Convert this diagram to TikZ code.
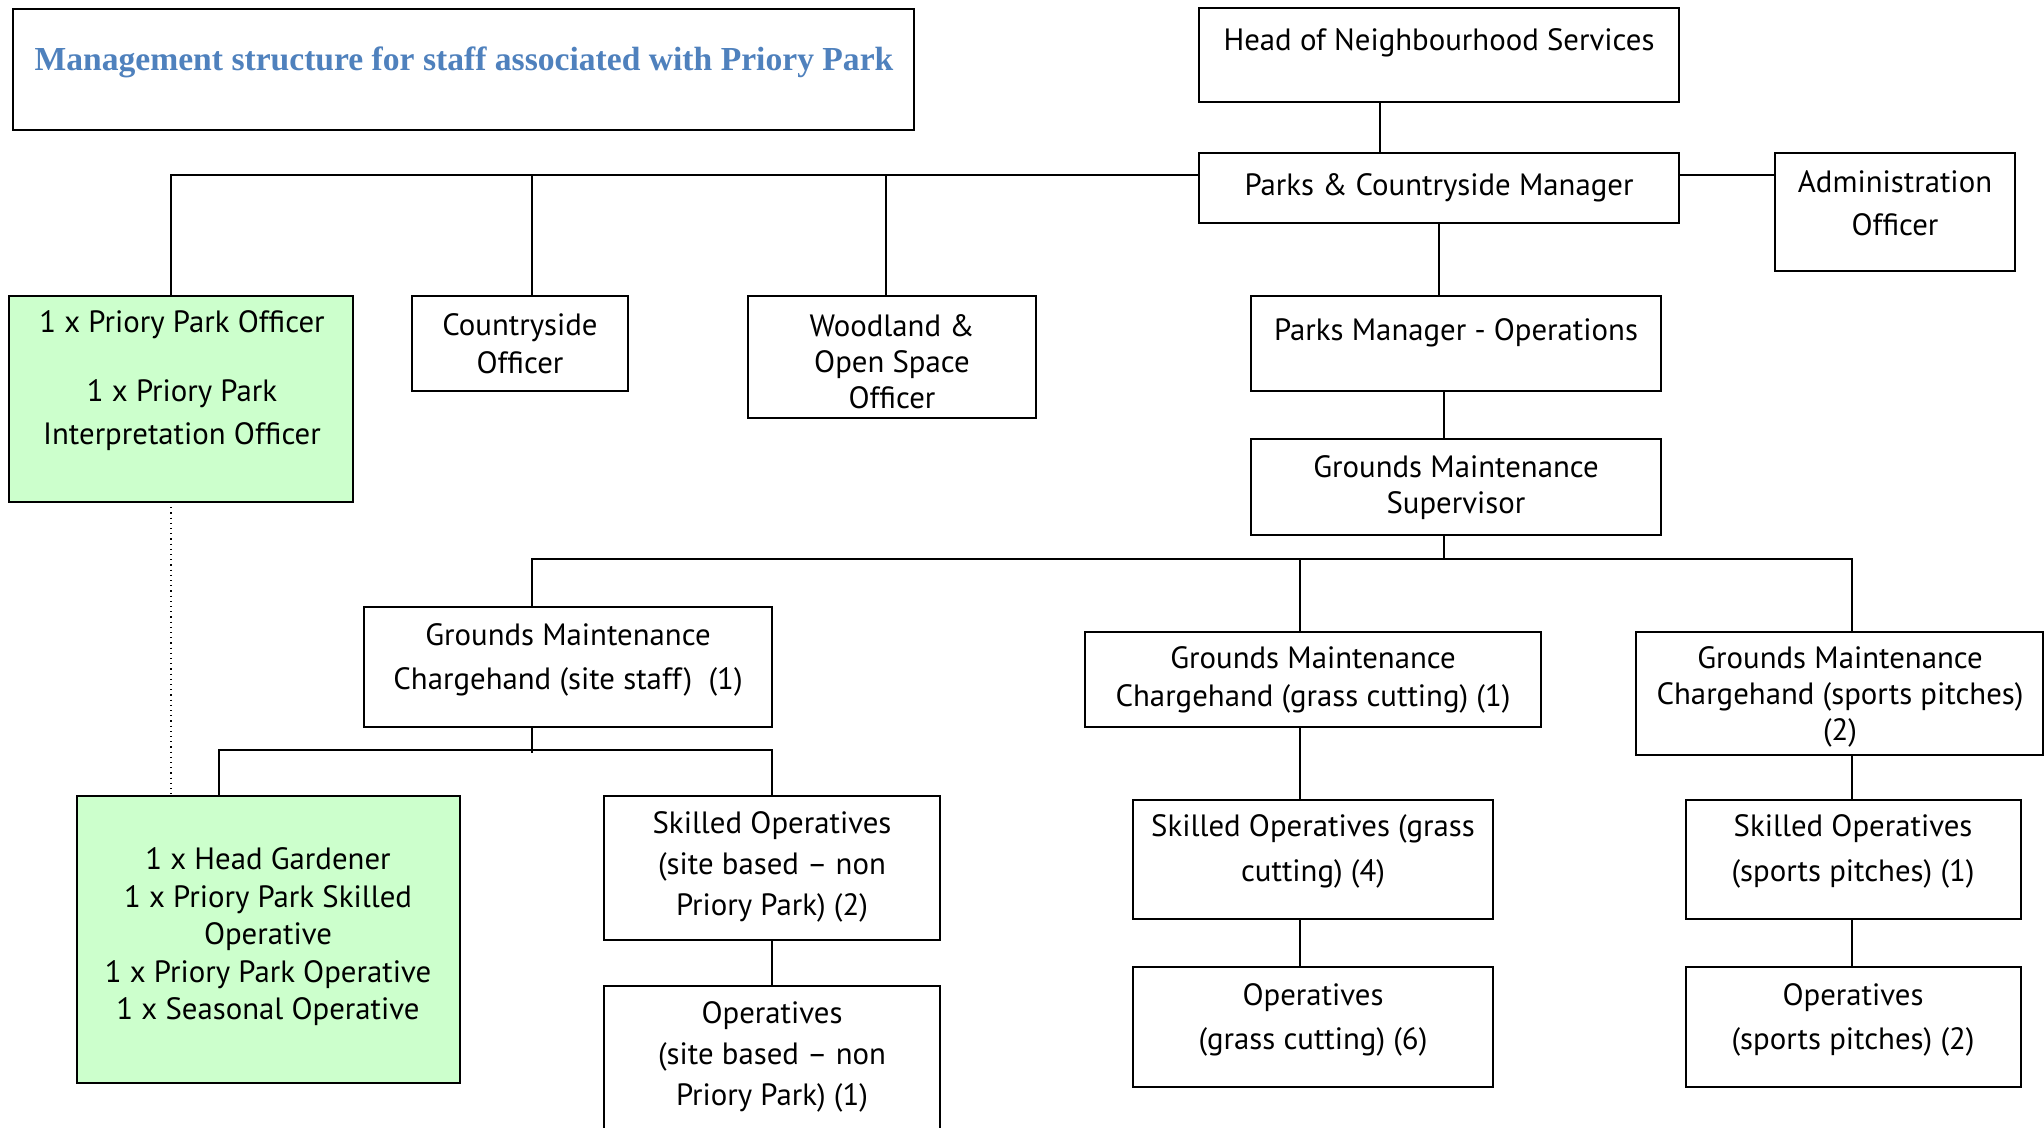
\documentclass[tikz,border=0pt]{standalone}
\usepackage{fontspec}
\setmainfont{PT Sans}
\newfontfamily\titlefont{Liberation Serif}
\definecolor{titleblue}{RGB}{79,129,189}
\definecolor{paleg}{RGB}{204,255,204}
\newcommand\orgbox[6]{\node[boxst,#6,minimum width={(#4-#2)*0.5pt},minimum height={(#5-#3)*0.5pt},anchor=north west] (#1) at (#2,#3) {};}
\tikzset{
  boxst/.style={draw=black,line width=1pt,inner sep=0pt,outer sep=0pt,fill=white},
  greenbox/.style={fill=paleg},
  lbl/.style={align=center,inner sep=0pt,font=\fontsize{15.4}{#1}\selectfont},
  lbl/.default=19pt,
  conn/.style={draw=black,line width=0.8pt},
}
\begin{document}
\begin{tikzpicture}[x=0.5pt,y=-0.5pt]
\useasboundingbox (0,0) rectangle (2044,1128);
\clip (0,0) rectangle (2044,1128);
% boxes
\orgbox{title}{13}{9}{914}{130}{}
\orgbox{head}{1199}{8}{1679}{102}{}
\orgbox{pcm}{1199}{153}{1679}{223}{}
\orgbox{admin}{1775}{153}{2015}{271}{}
\orgbox{ppo}{9}{296}{353}{502}{greenbox}
\orgbox{cso}{412}{296}{628}{391}{}
\orgbox{wos}{748}{296}{1036}{418}{}
\orgbox{pmo}{1251}{296}{1661}{391}{}
\orgbox{gms}{1251}{439}{1661}{535}{}
\orgbox{gmca}{364}{607}{772}{727}{}
\orgbox{gmcb}{1085}{632}{1541}{727}{}
\orgbox{gmcc}{1636}{632}{2043}{755}{}
\orgbox{hg}{77}{796}{460}{1083}{greenbox}
\orgbox{soa}{604}{796}{940}{940}{}
\orgbox{opa}{604}{986}{940}{1150}{}
\orgbox{sob}{1133}{800}{1493}{919}{}
\orgbox{opb}{1133}{967}{1493}{1087}{}
\orgbox{soc}{1686}{800}{2021}{919}{}
\orgbox{opc}{1686}{967}{2021}{1087}{}
% texts
\node[font=\titlefont\bfseries\fontsize{16.8}{20}\selectfont,text=titleblue,inner sep=0pt] (titlet) at (464,62) {Management structure for staff associated with Priory Park};
\node[lbl] (headt) at (1439,43) {Head of Neighbourhood Services};
\node[lbl] (pcmt) at (1439,188) {Parks \& Countryside Manager};
\node[lbl=21.5pt] (admint) at (1895,203) {Administration\\Officer};
\node[lbl=21.5pt] (ppot) at (182,381) {1 x Priory Park Officer\\[13pt]1 x Priory Park\\Interpretation Officer};
\node[lbl] (csot) at (520,344) {Countryside\\Officer};
\node[lbl=18pt] (wost) at (892,362) {Woodland \&\\Open Space\\Officer};
\node[lbl] (pmot) at (1456,333) {Parks Manager - Operations};
\node[lbl=18pt] (gmst) at (1456,488) {Grounds Maintenance\\Supervisor};
\node[lbl=22pt] (gmcat) at (568,660) {Grounds Maintenance\\Chargehand (site staff)\ \ (1)};
\node[lbl] (gmcbt) at (1313,680) {Grounds Maintenance\\Chargehand (grass cutting) (1)};
\node[lbl=18pt] (gmcct) at (1840,697) {Grounds Maintenance\\Chargehand (sports pitches)\\(2)};
\node[lbl=18.75pt] (hgt) at (268,937) {1 x Head Gardener\\1 x Priory Park Skilled\\Operative\\1 x Priory Park Operative\\1 x Seasonal Operative};
\node[lbl=20.5pt] (soat) at (772,867) {Skilled Operatives\\(site based -- non\\Priory Park) (2)};
\node[lbl=20.5pt] (opat) at (772,1057) {Operatives\\(site based -- non\\Priory Park) (1)};
\node[lbl=22.5pt] (sobt) at (1313,851) {Skilled Operatives (grass\\cutting) (4)};
\node[lbl=22pt] (opbt) at (1313,1020) {Operatives\\(grass cutting) (6)};
\node[lbl=22.5pt] (soct) at (1853,851) {Skilled Operatives\\(sports pitches) (1)};
\node[lbl=22pt] (opct) at (1853,1020) {Operatives\\(sports pitches) (2)};
% junction coordinates
\coordinate (hx) at (1380,175);
\coordinate (busl) at (171,175);
\coordinate (cx) at (532,175);
\coordinate (wx) at (886,175);
\coordinate (px) at (1444,559);
\coordinate (bus2l) at (532,559);
\coordinate (bx) at (1300,559);
\coordinate (bus2r) at (1852,559);
\coordinate (bus3l) at (219,750);
\coordinate (bus3r) at (772,750);
\coordinate (ax) at (532,753);
% connectors
\draw[conn] (head.south -| hx) -- (pcm.north -| hx);
\draw[conn] (pcm.west |- busl) -- (busl) -- (ppo.north -| busl);
\draw[conn] (cx) -- (cso.north -| cx);
\draw[conn] (wx) -- (wos.north -| wx);
\draw[conn] (pcm.east |- hx) -- (admin.west |- hx);
\draw[conn] (pcm.south) -- (pcm.south |- pmo.north);
\draw[conn] (pmo.south -| px) -- (gms.north -| px);
\draw[conn] (gms.south -| px) -- (px);
\draw[conn] (gmca.north -| bus2l) -- (bus2l) -- (bus2r) -- (gmcc.north -| bus2r);
\draw[conn] (bx) -- (gmcb.north -| bx);
\draw[conn] (gmca.south -| ax) -- (ax);
\draw[conn] (hg.north -| bus3l) -- (bus3l) -- (bus3r) -- (soa.north);
\draw[conn] (soa.south) -- (opa.north);
\draw[conn] (gmcb.south -| bx) -- (sob.north -| bx);
\draw[conn] (sob.south -| bx) -- (opb.north -| bx);
\draw[conn] (gmcc.south -| bus2r) -- (soc.north -| bus2r);
\draw[conn] (soc.south -| bus2r) -- (opc.north -| bus2r);
\draw[line width=0.6pt,dotted] (ppo.south -| busl) -- (hg.north -| busl);
\end{tikzpicture}
\end{document}
